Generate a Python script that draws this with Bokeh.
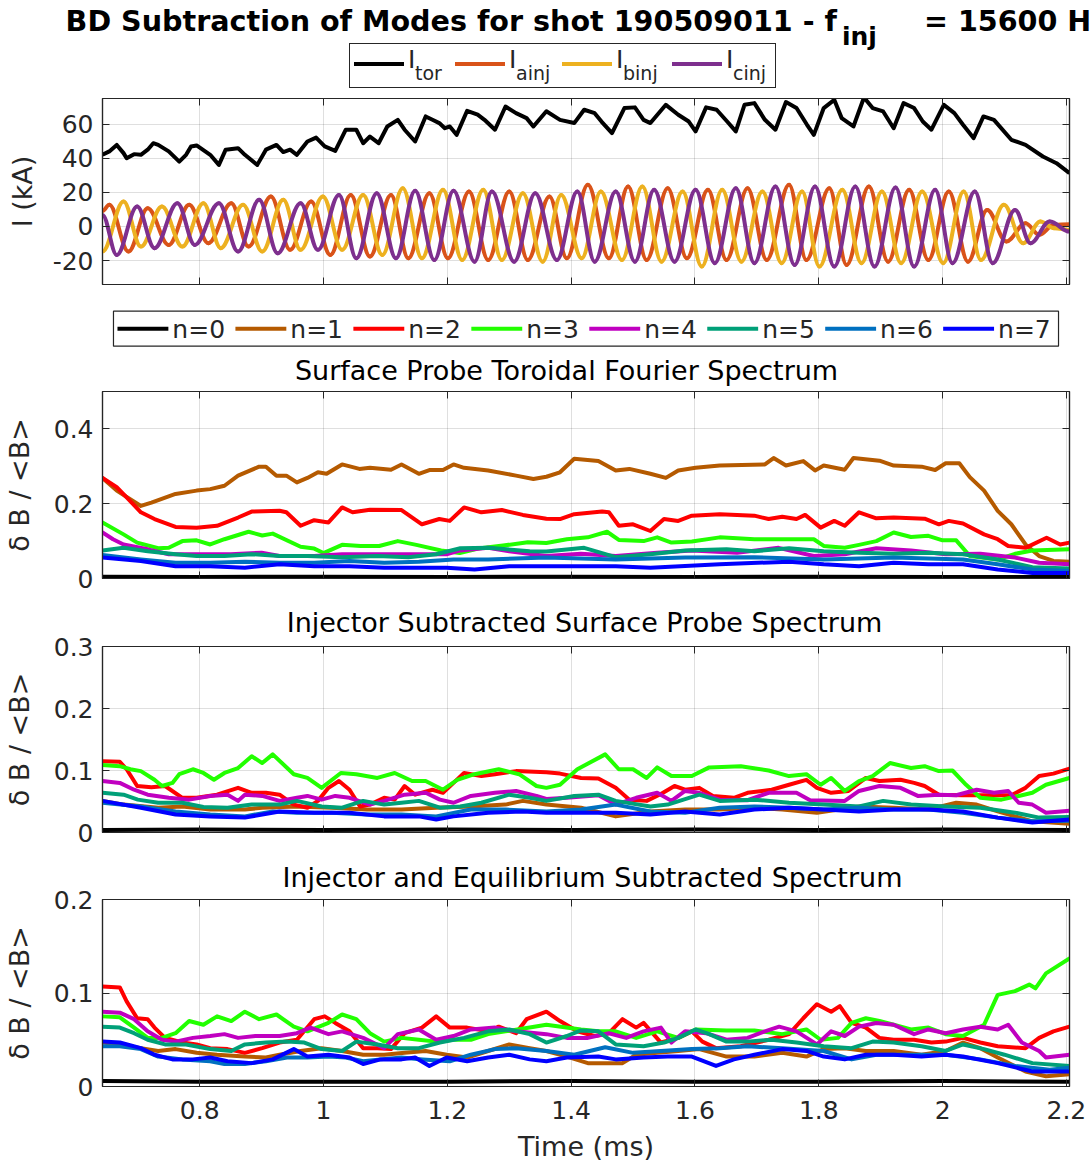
from bokeh.plotting import figure
from bokeh.layouts import column
from bokeh.models import Range1d, LinearAxis, FixedTicker, NumeralTickFormatter, ColumnDataSource, Div
from bokeh.embed import file_html
from bokeh.resources import INLINE
from bokeh.core.properties import value

# ---------------------------------------------------------------- data
X_TICKS = [0.8, 1.0, 1.2, 1.4, 1.6, 1.8, 2.0, 2.2]

# Panel 1: currents (kA)
ITOR_T = [0.643, 0.654, 0.666, 0.677, 0.682, 0.694, 0.705, 0.716, 0.725, 0.733, 0.750, 0.767, 0.778, 0.786, 0.795,
          0.817, 0.831, 0.842, 0.862, 0.873, 0.893, 0.907, 0.924, 0.935, 0.946, 0.957, 0.974, 0.988, 1.002, 1.019,
          1.036, 1.053, 1.064, 1.075, 1.089, 1.103, 1.120, 1.131, 1.148, 1.165, 1.176, 1.187, 1.196, 1.204, 1.215,
          1.232, 1.249, 1.260, 1.277, 1.294, 1.311, 1.328, 1.339, 1.360, 1.382, 1.405, 1.421, 1.438, 1.449, 1.466,
          1.486, 1.503, 1.517, 1.528, 1.553, 1.573, 1.590, 1.601, 1.618, 1.635, 1.652, 1.666, 1.680, 1.696, 1.713,
          1.730, 1.747, 1.764, 1.781, 1.792, 1.808, 1.825, 1.837, 1.856, 1.873, 1.887, 1.904, 1.921, 1.937, 1.954,
          1.968, 1.982, 2.002, 2.019, 2.033, 2.050, 2.066, 2.083, 2.111, 2.134, 2.162, 2.184, 2.205]
ITOR_V = [42.0, 44.0, 47.8, 43.0, 40.0, 42.4, 42.0, 45.0, 48.8, 47.8, 44.0, 38.0, 42.0, 46.9, 47.5,
          42.0, 36.1, 45.0, 45.9, 42.0, 36.1, 45.0, 47.8, 43.6, 45.0, 42.0, 49.8, 52.1, 46.9, 44.3,
          56.7, 56.7, 48.8, 52.7, 48.8, 58.6, 62.5, 56.7, 49.8, 64.5, 62.5, 60.6, 57.6, 58.6, 53.7,
          67.8, 65.5, 62.5, 56.7, 70.3, 66.4, 63.5, 58.6, 67.5, 62.5, 60.6, 68.4, 66.4, 61.5, 54.7,
          69.4, 69.8, 62.5, 60.6, 71.3, 65.5, 61.5, 55.7, 69.8, 68.4, 61.5, 55.7, 71.3, 72.3, 62.5,
          56.7, 72.9, 69.4, 59.6, 53.7, 69.4, 74.2, 63.5, 58.6, 75.6, 69.4, 67.4, 57.6, 72.3, 69.4,
          61.5, 56.7, 71.3, 66.4, 59.6, 51.8, 64.5, 62.5, 50.8, 47.8, 41.0, 37.1, 31.2]

# injector currents: successive peaks and troughs (time, value)
IA_T = [0.643, 0.654, 0.685, 0.716, 0.750, 0.783, 0.814, 0.851, 0.879, 0.915, 0.946, 0.980, 1.011, 1.044, 1.075,
        1.109, 1.137, 1.171, 1.201, 1.235, 1.266, 1.300, 1.330, 1.365, 1.393, 1.427, 1.461, 1.492, 1.522, 1.556,
        1.587, 1.621, 1.651, 1.685, 1.716, 1.752, 1.780, 1.817, 1.845, 1.881, 1.912, 1.946, 1.977, 2.010, 2.041,
        2.072, 2.103, 2.134, 2.156, 2.180, 2.205]
IA_V = [9.0, 12.7, -14.7, 10.7, -10.8, 12.7, -9.8, 13.6, -11.8, 17.6, -13.7, 14.6, -16.7, 18.5, -17.6,
        18.5, -18.6, 19.5, -18.6, 20.5, -19.6, 20.5, -19.6, 17.6, -18.6, 24.4, -18.6, 23.4, -19.6, 22.4,
        -18.6, 21.5, -19.6, 22.4, -19.6, 24.4, -19.6, 22.4, -22.5, 23.4, -20.6, 21.5, -19.6, 20.5, -20.6,
        9.7, -8.8, 1.9, -4.9, 1.0, 1.3]
IB_T = [0.643, 0.677, 0.705, 0.739, 0.772, 0.806, 0.834, 0.870, 0.901, 0.935, 0.963, 0.999, 1.030, 1.064, 1.095,
        1.128, 1.159, 1.193, 1.224, 1.258, 1.288, 1.322, 1.354, 1.384, 1.417, 1.448, 1.482, 1.515, 1.546, 1.580,
        1.611, 1.644, 1.675, 1.709, 1.740, 1.773, 1.801, 1.838, 1.869, 1.902, 1.933, 1.967, 2.001, 2.034, 2.062,
        2.099, 2.130, 2.158, 2.180, 2.205]
IB_V = [-14.7, 14.6, -11.8, 11.7, -11.8, 13.6, -12.7, 12.7, -14.7, 15.6, -13.7, 17.6, -13.7, 18.5, -16.7,
        22.4, -18.6, 21.5, -19.6, 21.5, -19.6, 19.5, -20.6, 18.5, -18.6, 20.5, -19.6, 23.4, -20.6, 20.5,
        -23.5, 21.5, -20.6, 20.5, -21.5, 20.5, -23.5, 21.5, -21.5, 20.5, -21.5, 20.5, -21.5, 20.5, -19.6,
        12.7, -9.8, 2.9, -1.0, -2.0]
IC_T = [0.643, 0.666, 0.699, 0.727, 0.764, 0.792, 0.831, 0.862, 0.896, 0.926, 0.963, 0.991, 1.025, 1.053, 1.086,
        1.117, 1.148, 1.179, 1.210, 1.244, 1.272, 1.308, 1.342, 1.377, 1.410, 1.438, 1.472, 1.503, 1.534, 1.567,
        1.601, 1.632, 1.666, 1.696, 1.730, 1.761, 1.794, 1.825, 1.859, 1.890, 1.924, 1.954, 1.988, 2.016, 2.052,
        2.081, 2.117, 2.142, 2.173, 2.205]
IC_V = [6.8, -16.7, 11.7, -12.7, 13.6, -10.8, 13.6, -14.7, 15.6, -15.7, 13.6, -13.7, 18.5, -18.6, 19.5,
        -18.6, 20.9, -19.6, 20.9, -20.6, 20.5, -20.6, 19.5, -19.6, 20.5, -20.6, 20.5, -20.6, 21.5, -20.6,
        21.5, -21.5, 22.4, -21.5, 23.4, -22.5, 23.4, -23.5, 23.4, -23.5, 22.8, -23.5, 21.5, -21.5, 20.5,
        -21.5, 9.7, -9.8, 2.9, -3.0]

# Panel 2: Surface Probe Toroidal Fourier Spectrum
S_N0_T = [0.643, 0.80, 1.00, 1.20, 1.40, 1.60, 1.80, 2.00, 2.205]
S_N0_V = [0.005, 0.004, 0.005, 0.004, 0.005, 0.004, 0.005, 0.004, 0.004]
S_N1_T = [0.643, 0.666, 0.705, 0.722, 0.761, 0.795, 0.817, 0.840, 0.862, 0.896, 0.907, 0.924, 0.940, 0.957, 0.974,
          0.991, 1.005, 1.030, 1.058, 1.075, 1.109, 1.126, 1.154, 1.171, 1.193, 1.210, 1.227, 1.266, 1.311, 1.339,
          1.360, 1.382, 1.405, 1.444, 1.472, 1.494, 1.528, 1.553, 1.573, 1.601, 1.640, 1.713, 1.727, 1.747, 1.775,
          1.794, 1.808, 1.842, 1.856, 1.898, 1.921, 1.966, 1.988, 2.005, 2.027, 2.044, 2.067, 2.089, 2.111, 2.134,
          2.156, 2.179, 2.205]
S_N1_V = [0.269, 0.235, 0.194, 0.203, 0.226, 0.235, 0.239, 0.248, 0.275, 0.299, 0.299, 0.275, 0.275, 0.257, 0.269,
          0.284, 0.280, 0.305, 0.293, 0.296, 0.291, 0.305, 0.280, 0.290, 0.290, 0.305, 0.296, 0.289, 0.275, 0.266,
          0.272, 0.284, 0.320, 0.314, 0.289, 0.293, 0.280, 0.269, 0.289, 0.296, 0.302, 0.305, 0.322, 0.302, 0.314,
          0.289, 0.302, 0.291, 0.322, 0.315, 0.302, 0.299, 0.290, 0.308, 0.308, 0.271, 0.235, 0.181, 0.145, 0.091,
          0.060, 0.047, 0.045]
S_N2_T = [0.643, 0.666, 0.682, 0.705, 0.727, 0.761, 0.795, 0.828, 0.862, 0.884, 0.929, 0.940, 0.963, 0.985, 1.008,
          1.030, 1.047, 1.075, 1.126, 1.159, 1.187, 1.204, 1.227, 1.255, 1.288, 1.322, 1.360, 1.382, 1.405, 1.450,
          1.461, 1.477, 1.500, 1.528, 1.550, 1.573, 1.595, 1.640, 1.696, 1.719, 1.741, 1.764, 1.778, 1.803, 1.825,
          1.842, 1.865, 1.893, 1.921, 1.971, 1.994, 2.010, 2.033, 2.067, 2.089, 2.106, 2.134, 2.168, 2.190, 2.205]
S_N2_V = [0.269, 0.244, 0.217, 0.177, 0.159, 0.138, 0.136, 0.141, 0.163, 0.179, 0.181, 0.177, 0.141, 0.156, 0.150,
          0.190, 0.177, 0.184, 0.183, 0.145, 0.159, 0.154, 0.190, 0.177, 0.183, 0.170, 0.160, 0.159, 0.172, 0.179,
          0.177, 0.141, 0.145, 0.127, 0.159, 0.154, 0.168, 0.172, 0.168, 0.159, 0.165, 0.159, 0.170, 0.136, 0.154,
          0.141, 0.177, 0.161, 0.163, 0.160, 0.145, 0.154, 0.147, 0.118, 0.105, 0.087, 0.082, 0.109, 0.091, 0.096]
S_N3_T = [0.643, 0.677, 0.699, 0.733, 0.750, 0.772, 0.795, 0.817, 0.840, 0.879, 0.901, 0.918, 0.963, 0.985, 1.000,
          1.030, 1.060, 1.090, 1.120, 1.150, 1.190, 1.220, 1.250, 1.290, 1.330, 1.360, 1.393, 1.427, 1.458, 1.477,
          1.517, 1.539, 1.562, 1.595, 1.640, 1.696, 1.752, 1.792, 1.808, 1.842, 1.865, 1.893, 1.921, 1.949, 1.977,
          2.000, 2.022, 2.044, 2.089, 2.117, 2.145, 2.205]
S_N3_V = [0.150, 0.118, 0.096, 0.081, 0.082, 0.100, 0.102, 0.091, 0.105, 0.125, 0.115, 0.120, 0.085, 0.080, 0.068,
          0.090, 0.087, 0.087, 0.100, 0.090, 0.075, 0.068, 0.080, 0.088, 0.097, 0.095, 0.105, 0.110, 0.125, 0.103,
          0.100, 0.110, 0.096, 0.099, 0.110, 0.105, 0.105, 0.105, 0.087, 0.082, 0.090, 0.100, 0.123, 0.111, 0.114,
          0.102, 0.102, 0.060, 0.051, 0.066, 0.075, 0.078]
S_N4_T = [0.643, 0.660, 0.677, 0.716, 0.750, 0.850, 0.900, 0.929, 0.985, 1.030, 1.100, 1.200, 1.221, 1.266, 1.300,
          1.360, 1.416, 1.472, 1.539, 1.595, 1.668, 1.735, 1.792, 1.842, 1.893, 1.949, 2.005, 2.061, 2.117, 2.156,
          2.205]
S_N4_V = [0.123, 0.105, 0.091, 0.078, 0.065, 0.065, 0.069, 0.060, 0.060, 0.065, 0.065, 0.065, 0.075, 0.082, 0.073,
          0.060, 0.066, 0.060, 0.069, 0.075, 0.069, 0.082, 0.060, 0.065, 0.081, 0.075, 0.065, 0.066, 0.056, 0.042,
          0.038]
S_N5_T = [0.643, 0.677, 0.716, 0.761, 0.795, 0.840, 0.884, 0.929, 0.974, 1.030, 1.087, 1.137, 1.182, 1.221, 1.266,
          1.333, 1.360, 1.421, 1.472, 1.528, 1.584, 1.651, 1.696, 1.752, 1.808, 1.865, 1.921, 1.977, 2.033, 2.089,
          2.145, 2.205]
S_N5_V = [0.075, 0.082, 0.073, 0.065, 0.060, 0.060, 0.065, 0.060, 0.060, 0.057, 0.060, 0.057, 0.065, 0.081, 0.082,
          0.073, 0.072, 0.082, 0.057, 0.065, 0.075, 0.078, 0.073, 0.081, 0.073, 0.069, 0.066, 0.069, 0.065, 0.051,
          0.030, 0.027]
S_N6_T = [0.643, 0.705, 0.761, 0.817, 0.873, 0.929, 0.985, 1.042, 1.098, 1.154, 1.210, 1.266, 1.360, 1.472, 1.584,
          1.696, 1.808, 1.921, 2.033, 2.089, 2.145, 2.205]
S_N6_V = [0.063, 0.051, 0.042, 0.042, 0.045, 0.042, 0.042, 0.047, 0.042, 0.045, 0.051, 0.051, 0.056, 0.051, 0.056,
          0.057, 0.051, 0.056, 0.051, 0.038, 0.024, 0.020]
S_N7_T = [0.643, 0.705, 0.761, 0.817, 0.873, 0.929, 0.985, 1.042, 1.098, 1.154, 1.199, 1.244, 1.300, 1.360, 1.472,
          1.528, 1.640, 1.752, 1.808, 1.865, 1.921, 1.977, 2.033, 2.089, 2.145, 2.205]
S_N7_V = [0.056, 0.047, 0.033, 0.033, 0.029, 0.038, 0.033, 0.033, 0.029, 0.029, 0.029, 0.024, 0.033, 0.033, 0.033,
          0.029, 0.038, 0.045, 0.038, 0.033, 0.042, 0.038, 0.038, 0.024, 0.015, 0.015]

# Panel 3: Injector Subtracted Surface Probe Spectrum
I_N0_T = [0.643, 0.80, 1.00, 1.20, 1.40, 1.60, 1.80, 2.00, 2.205]
I_N0_V = [0.004, 0.005, 0.004, 0.005, 0.004, 0.005, 0.004, 0.005, 0.004]
I_N1_T = [0.643, 0.677, 0.733, 0.772, 0.817, 0.873, 0.901, 0.957, 1.013, 1.070, 1.126, 1.182, 1.238, 1.294, 1.322,
          1.360, 1.416, 1.472, 1.528, 1.584, 1.640, 1.696, 1.741, 1.797, 1.865, 1.921, 1.977, 2.022, 2.055, 2.089,
          2.145, 2.205]
I_N1_V = [0.051, 0.045, 0.040, 0.042, 0.037, 0.037, 0.040, 0.042, 0.040, 0.037, 0.037, 0.040, 0.042, 0.045, 0.051,
          0.045, 0.040, 0.026, 0.034, 0.037, 0.037, 0.040, 0.037, 0.032, 0.042, 0.040, 0.037, 0.048, 0.045, 0.034,
          0.018, 0.014]
I_N2_T = [0.643, 0.671, 0.682, 0.699, 0.722, 0.744, 0.772, 0.795, 0.828, 0.862, 0.884, 0.907, 0.929, 0.952, 0.974,
          0.991, 1.008, 1.025, 1.042, 1.059, 1.075, 1.098, 1.115, 1.131, 1.148, 1.176, 1.193, 1.210, 1.227, 1.255,
          1.277, 1.311, 1.360, 1.382, 1.416, 1.444, 1.472, 1.494, 1.522, 1.545, 1.567, 1.584, 1.607, 1.629, 1.663,
          1.685, 1.724, 1.752, 1.780, 1.797, 1.820, 1.848, 1.876, 1.898, 1.932, 1.954, 1.971, 1.994, 2.033, 2.067,
          2.111, 2.134, 2.156, 2.179, 2.205]
I_N2_V = [0.115, 0.114, 0.102, 0.075, 0.073, 0.075, 0.056, 0.056, 0.061, 0.072, 0.064, 0.064, 0.061, 0.045, 0.040,
          0.051, 0.072, 0.083, 0.069, 0.042, 0.045, 0.056, 0.053, 0.075, 0.061, 0.069, 0.064, 0.080, 0.096, 0.091,
          0.094, 0.099, 0.097, 0.095, 0.088, 0.087, 0.072, 0.053, 0.051, 0.062, 0.075, 0.069, 0.072, 0.059, 0.056,
          0.064, 0.069, 0.077, 0.085, 0.072, 0.064, 0.067, 0.088, 0.083, 0.085, 0.080, 0.075, 0.061, 0.060, 0.060,
          0.060, 0.072, 0.091, 0.095, 0.103]
I_N3_T = [0.643, 0.671, 0.688, 0.705, 0.727, 0.739, 0.756, 0.767, 0.789, 0.806, 0.823, 0.840, 0.862, 0.884, 0.901,
          0.918, 0.952, 0.974, 0.997, 1.028, 1.053, 1.087, 1.115, 1.143, 1.165, 1.193, 1.216, 1.244, 1.283, 1.316,
          1.344, 1.360, 1.382, 1.410, 1.455, 1.477, 1.500, 1.522, 1.539, 1.562, 1.595, 1.623, 1.674, 1.719, 1.752,
          1.780, 1.803, 1.820, 1.842, 1.865, 1.887, 1.915, 1.949, 1.971, 1.994, 2.016, 2.038, 2.061, 2.095, 2.123,
          2.145, 2.167, 2.205]
I_N3_V = [0.109, 0.107, 0.102, 0.099, 0.085, 0.075, 0.080, 0.094, 0.102, 0.096, 0.085, 0.096, 0.104, 0.123, 0.112,
          0.126, 0.094, 0.088, 0.072, 0.096, 0.094, 0.088, 0.096, 0.083, 0.083, 0.069, 0.085, 0.094, 0.102, 0.094,
          0.075, 0.072, 0.077, 0.102, 0.126, 0.102, 0.102, 0.088, 0.105, 0.091, 0.091, 0.105, 0.107, 0.100, 0.091,
          0.094, 0.077, 0.088, 0.067, 0.083, 0.091, 0.112, 0.104, 0.107, 0.099, 0.100, 0.077, 0.056, 0.053, 0.059,
          0.064, 0.077, 0.088]
I_N4_T = [0.643, 0.671, 0.694, 0.716, 0.750, 0.783, 0.817, 0.845, 0.862, 0.873, 0.901, 0.929, 0.957, 0.974, 0.997,
          1.019, 1.042, 1.075, 1.098, 1.131, 1.165, 1.188, 1.210, 1.238, 1.277, 1.311, 1.344, 1.360, 1.393, 1.444,
          1.472, 1.505, 1.539, 1.562, 1.584, 1.607, 1.640, 1.685, 1.719, 1.764, 1.786, 1.842, 1.865, 1.898, 1.932,
          1.960, 1.994, 2.022, 2.055, 2.083, 2.106, 2.123, 2.145, 2.167, 2.205]
I_N4_V = [0.083, 0.080, 0.069, 0.061, 0.056, 0.053, 0.059, 0.061, 0.051, 0.061, 0.059, 0.051, 0.056, 0.059, 0.053,
          0.059, 0.056, 0.045, 0.051, 0.061, 0.064, 0.053, 0.048, 0.059, 0.064, 0.067, 0.059, 0.054, 0.056, 0.060,
          0.045, 0.056, 0.064, 0.051, 0.067, 0.064, 0.053, 0.052, 0.064, 0.064, 0.052, 0.051, 0.067, 0.075, 0.072,
          0.059, 0.061, 0.060, 0.069, 0.064, 0.067, 0.048, 0.045, 0.032, 0.035]
I_N5_T = [0.643, 0.677, 0.700, 0.733, 0.772, 0.806, 0.845, 0.884, 0.929, 0.957, 0.997, 1.030, 1.064, 1.098, 1.126,
          1.154, 1.188, 1.221, 1.255, 1.300, 1.333, 1.360, 1.405, 1.444, 1.472, 1.528, 1.556, 1.607, 1.640, 1.696,
          1.752, 1.808, 1.865, 1.904, 1.949, 2.005, 2.061, 2.117, 2.156, 2.205]
I_N5_V = [0.064, 0.061, 0.053, 0.048, 0.048, 0.041, 0.040, 0.045, 0.045, 0.051, 0.042, 0.040, 0.051, 0.045, 0.048,
          0.051, 0.040, 0.042, 0.048, 0.061, 0.056, 0.051, 0.059, 0.061, 0.051, 0.042, 0.045, 0.061, 0.051, 0.053,
          0.048, 0.045, 0.042, 0.051, 0.045, 0.042, 0.040, 0.032, 0.024, 0.025]
I_N6_T = [0.643, 0.705, 0.761, 0.817, 0.873, 0.918, 0.957, 1.013, 1.070, 1.126, 1.182, 1.238, 1.294, 1.360, 1.416,
          1.472, 1.528, 1.584, 1.640, 1.696, 1.752, 1.808, 1.865, 1.921, 1.977, 2.033, 2.089, 2.145, 2.205]
I_N6_V = [0.048, 0.042, 0.034, 0.029, 0.026, 0.034, 0.032, 0.032, 0.029, 0.029, 0.026, 0.037, 0.037, 0.034, 0.037,
          0.045, 0.034, 0.032, 0.040, 0.042, 0.040, 0.037, 0.040, 0.037, 0.037, 0.032, 0.024, 0.018, 0.019]
I_N7_T = [0.643, 0.705, 0.761, 0.817, 0.873, 0.929, 0.985, 1.042, 1.098, 1.154, 1.182, 1.210, 1.266, 1.322, 1.360,
          1.416, 1.472, 1.528, 1.584, 1.640, 1.696, 1.752, 1.808, 1.865, 1.921, 1.977, 2.033, 2.089, 2.145, 2.205]
I_N7_V = [0.051, 0.040, 0.029, 0.026, 0.024, 0.034, 0.032, 0.032, 0.026, 0.026, 0.021, 0.026, 0.032, 0.034, 0.032,
          0.032, 0.032, 0.029, 0.034, 0.029, 0.037, 0.040, 0.037, 0.034, 0.037, 0.037, 0.034, 0.024, 0.016, 0.021]

# Panel 4: Injector and Equilibrium Subtracted Spectrum
E_N0_T = [0.643, 0.80, 1.00, 1.20, 1.40, 1.60, 1.80, 2.00, 2.205]
E_N0_V = [0.006, 0.005, 0.005, 0.005, 0.006, 0.005, 0.005, 0.006, 0.005]
E_N1_T = [0.643, 0.671, 0.705, 0.733, 0.761, 0.795, 0.828, 0.873, 0.907, 0.929, 0.963, 0.997, 1.030, 1.064, 1.098,
          1.131, 1.165, 1.199, 1.232, 1.266, 1.300, 1.333, 1.360, 1.393, 1.427, 1.461, 1.483, 1.505, 1.539, 1.573,
          1.607, 1.651, 1.696, 1.741, 1.780, 1.808, 1.842, 1.876, 1.921, 1.966, 2.005, 2.033, 2.061, 2.089, 2.134,
          2.167, 2.205]
E_N1_V = [0.047, 0.045, 0.041, 0.038, 0.040, 0.036, 0.034, 0.032, 0.031, 0.034, 0.038, 0.041, 0.038, 0.034, 0.034,
          0.036, 0.038, 0.034, 0.031, 0.038, 0.045, 0.041, 0.038, 0.032, 0.025, 0.025, 0.025, 0.034, 0.036, 0.038,
          0.040, 0.032, 0.032, 0.036, 0.032, 0.040, 0.041, 0.038, 0.038, 0.034, 0.038, 0.047, 0.041, 0.031, 0.016,
          0.011, 0.013]
E_N2_T = [0.643, 0.671, 0.682, 0.699, 0.716, 0.727, 0.744, 0.772, 0.795, 0.817, 0.845, 0.873, 0.901, 0.929, 0.957,
          0.985, 1.002, 1.019, 1.042, 1.064, 1.087, 1.109, 1.131, 1.159, 1.182, 1.204, 1.232, 1.266, 1.283, 1.311,
          1.328, 1.360, 1.382, 1.410, 1.438, 1.461, 1.483, 1.505, 1.517, 1.545, 1.573, 1.595, 1.612, 1.634, 1.674,
          1.719, 1.752, 1.775, 1.797, 1.820, 1.834, 1.853, 1.876, 1.898, 1.921, 1.954, 1.982, 2.005, 2.033, 2.061,
          2.089, 2.134, 2.156, 2.179, 2.205]
E_N2_V = [0.107, 0.106, 0.091, 0.073, 0.072, 0.063, 0.052, 0.047, 0.045, 0.041, 0.040, 0.036, 0.041, 0.047, 0.050,
          0.072, 0.075, 0.068, 0.059, 0.041, 0.041, 0.040, 0.057, 0.063, 0.075, 0.063, 0.063, 0.059, 0.064, 0.057,
          0.072, 0.080, 0.070, 0.059, 0.054, 0.057, 0.072, 0.063, 0.068, 0.047, 0.052, 0.059, 0.048, 0.041, 0.043,
          0.050, 0.056, 0.073, 0.088, 0.080, 0.086, 0.068, 0.063, 0.052, 0.050, 0.050, 0.047, 0.048, 0.052, 0.047,
          0.043, 0.041, 0.052, 0.059, 0.064]
E_N3_T = [0.643, 0.671, 0.694, 0.716, 0.739, 0.761, 0.783, 0.806, 0.828, 0.851, 0.873, 0.896, 0.924, 0.952, 0.974,
          1.008, 1.030, 1.053, 1.075, 1.098, 1.126, 1.154, 1.182, 1.210, 1.238, 1.266, 1.294, 1.333, 1.360, 1.416,
          1.444, 1.472, 1.505, 1.539, 1.573, 1.601, 1.651, 1.696, 1.741, 1.780, 1.803, 1.831, 1.853, 1.876, 1.898,
          1.921, 1.949, 1.977, 2.005, 2.033, 2.067, 2.089, 2.117, 2.140, 2.150, 2.167, 2.205]
E_N3_V = [0.075, 0.074, 0.063, 0.052, 0.052, 0.057, 0.070, 0.066, 0.075, 0.070, 0.080, 0.072, 0.077, 0.064, 0.059,
          0.068, 0.077, 0.072, 0.057, 0.048, 0.052, 0.050, 0.048, 0.050, 0.050, 0.056, 0.059, 0.063, 0.066, 0.061,
          0.059, 0.059, 0.052, 0.059, 0.052, 0.061, 0.060, 0.060, 0.056, 0.061, 0.050, 0.052, 0.068, 0.073, 0.070,
          0.066, 0.061, 0.063, 0.056, 0.054, 0.066, 0.098, 0.102, 0.109, 0.105, 0.121, 0.137]
E_N4_T = [0.643, 0.671, 0.694, 0.716, 0.739, 0.761, 0.789, 0.817, 0.840, 0.862, 0.890, 0.929, 0.957, 0.979, 1.008,
          1.030, 1.064, 1.098, 1.120, 1.154, 1.182, 1.210, 1.238, 1.277, 1.311, 1.360, 1.393, 1.427, 1.461, 1.489,
          1.517, 1.545, 1.562, 1.584, 1.618, 1.651, 1.685, 1.713, 1.736, 1.764, 1.797, 1.820, 1.842, 1.865, 1.893,
          1.921, 1.954, 1.977, 2.005, 2.033, 2.061, 2.089, 2.106, 2.128, 2.156, 2.167, 2.205]
E_N4_V = [0.080, 0.079, 0.072, 0.059, 0.050, 0.048, 0.052, 0.054, 0.056, 0.052, 0.054, 0.054, 0.057, 0.063, 0.056,
          0.059, 0.052, 0.041, 0.056, 0.061, 0.050, 0.054, 0.061, 0.063, 0.059, 0.056, 0.052, 0.052, 0.057, 0.052,
          0.059, 0.063, 0.047, 0.059, 0.057, 0.050, 0.052, 0.059, 0.064, 0.059, 0.045, 0.059, 0.054, 0.064, 0.068,
          0.066, 0.056, 0.061, 0.057, 0.061, 0.064, 0.061, 0.066, 0.047, 0.038, 0.031, 0.034]
E_N5_T = [0.643, 0.671, 0.694, 0.716, 0.744, 0.778, 0.817, 0.851, 0.873, 0.907, 0.941, 0.969, 0.997, 1.030, 1.053,
          1.087, 1.120, 1.154, 1.188, 1.227, 1.266, 1.300, 1.333, 1.360, 1.393, 1.416, 1.444, 1.472, 1.517, 1.550,
          1.573, 1.601, 1.623, 1.651, 1.685, 1.724, 1.764, 1.808, 1.853, 1.887, 1.921, 1.966, 2.005, 2.033, 2.067,
          2.100, 2.145, 2.205]
E_N5_V = [0.064, 0.063, 0.057, 0.050, 0.045, 0.045, 0.040, 0.038, 0.045, 0.047, 0.048, 0.047, 0.040, 0.038, 0.048,
          0.045, 0.041, 0.041, 0.047, 0.052, 0.059, 0.061, 0.056, 0.047, 0.054, 0.060, 0.059, 0.045, 0.043, 0.047,
          0.052, 0.061, 0.056, 0.048, 0.048, 0.050, 0.047, 0.043, 0.041, 0.048, 0.047, 0.043, 0.038, 0.045, 0.040,
          0.034, 0.025, 0.022]
E_N6_T = [0.643, 0.671, 0.705, 0.733, 0.772, 0.817, 0.840, 0.873, 0.907, 0.941, 0.974, 1.008, 1.036, 1.064, 1.092,
          1.126, 1.160, 1.204, 1.238, 1.277, 1.311, 1.360, 1.405, 1.455, 1.500, 1.545, 1.595, 1.640, 1.685, 1.741,
          1.808, 1.853, 1.893, 1.949, 2.005, 2.061, 2.117, 2.173, 2.205]
E_N6_V = [0.043, 0.043, 0.040, 0.032, 0.029, 0.027, 0.024, 0.024, 0.027, 0.031, 0.031, 0.032, 0.031, 0.027, 0.029,
          0.031, 0.029, 0.027, 0.034, 0.040, 0.041, 0.038, 0.034, 0.042, 0.036, 0.038, 0.040, 0.041, 0.043, 0.041,
          0.038, 0.029, 0.034, 0.034, 0.034, 0.029, 0.022, 0.018, 0.020]
E_N7_T = [0.643, 0.671, 0.705, 0.727, 0.756, 0.789, 0.817, 0.845, 0.884, 0.918, 0.952, 0.974, 1.008, 1.042, 1.064,
          1.092, 1.126, 1.148, 1.171, 1.199, 1.232, 1.266, 1.300, 1.333, 1.360, 1.393, 1.444, 1.472, 1.517, 1.556,
          1.595, 1.634, 1.663, 1.696, 1.741, 1.780, 1.808, 1.842, 1.876, 1.921, 1.966, 2.005, 2.033, 2.089, 2.145,
          2.205]
E_N7_V = [0.048, 0.047, 0.041, 0.034, 0.029, 0.029, 0.031, 0.027, 0.025, 0.029, 0.040, 0.032, 0.034, 0.031, 0.024,
          0.029, 0.029, 0.031, 0.022, 0.031, 0.027, 0.031, 0.034, 0.029, 0.027, 0.031, 0.032, 0.029, 0.031, 0.032,
          0.032, 0.022, 0.029, 0.034, 0.040, 0.038, 0.032, 0.029, 0.034, 0.034, 0.032, 0.034, 0.032, 0.025, 0.016,
          0.016]

MODE_LABELS = ["n=0", "n=1", "n=2", "n=3", "n=4", "n=5", "n=6", "n=7"]
CURRENT_LABELS = [("I", "tor"), ("I", "ainj"), ("I", "binj"), ("I", "cinj")]

# ---------------------------------------------------------------- style
MODE_COLORS = ["#000000", "#B55A00", "#FF0000", "#22FF00", "#C000C0", "#00A078", "#0070C0", "#0000FF"]
CUR_COLORS = ["#000000", "#D95319", "#EDB120", "#7E2F8E"]
AX = "#262626"
FONT = "DejaVu Sans"
W = 1090
FL, FR = 100, 1069
X0, X1 = 0.643, 2.205
LW = 4
ASC = 0.846   # baseline offset of DejaVu Sans inside a line-height:1 box


def span(x, base, s, size, bold=False, right=False, color="#000"):
    pos = f"right:{W - x}px;" if right else f"left:{x}px;"
    return (f'<span style="position:absolute;{pos}top:{base - ASC * size:.1f}px;font-size:{size}px;'
            f'line-height:1;white-space:nowrap;font-weight:{"bold" if bold else "normal"};color:{color};">{s}</span>')


# ---------------------------------------------------------------- header 0 (html): title + current legend
parts = [span(837, 31.5, "BD Subtraction of Modes for shot 190509011 - f", 28.6, bold=True, right=True),
         span(842, 45.5, "inj", 25, bold=True),
         span(924, 31.5, "= 15600 Hz", 28.6, bold=True),
         f'<div style="position:absolute;left:349px;top:43px;width:427px;height:45px;'
         f'border:1px solid {AX};box-sizing:border-box;background:white;"></div>']
LEG1_X = [354, 455, 562, 672]
for xs, (main, sub), c in zip(LEG1_X, CURRENT_LABELS, CUR_COLORS):
    parts.append(f'<div style="position:absolute;left:{xs}px;top:61.5px;width:50px;height:4px;background:{c};"></div>')
    parts.append(span(xs + 54, 68.5, main, 25, color=AX))
    parts.append(span(xs + 61, 80, sub, 19, color=AX))
html0 = (f'<div style="position:relative;width:{W}px;height:92px;overflow:hidden;'
         f'font-family:\'{FONT}\';background:white;">' + "".join(parts) + "</div>")
h0 = Div(text=html0, width=W, height=92, margin=0)


def header(h):
    p = figure(width=W, height=h, x_range=Range1d(FL, FR), y_range=Range1d(h, 0), title=None,
               x_axis_type=None, y_axis_type=None, output_backend="svg", toolbar_location=None,
               min_border_left=FL, min_border_right=W - FR, min_border_top=0, min_border_bottom=0)
    p.outline_line_color = None
    p.grid.visible = False
    return p


def style_axis(ax):
    ax.axis_line_color = AX
    ax.axis_line_width = 1.2
    ax.major_tick_line_color = AX
    ax.major_tick_in = 7
    ax.major_tick_out = 0
    ax.minor_tick_line_color = AX
    ax.minor_tick_in = 7
    ax.minor_tick_out = 0
    ax.major_label_text_font = FONT
    ax.major_label_text_color = AX
    ax.major_label_text_font_size = "25px"


def panel(h, top, bottom, yr, yticks, ylabel, label_standoff, xlabels, overlap=0):
    p = figure(width=W, height=h, x_range=Range1d(X0, X1), y_range=Range1d(*yr), title=None,
               output_backend="svg", toolbar_location=None, margin=(-overlap, 0, 0, 0),
               min_border_left=FL, min_border_right=W - FR, min_border_top=top, min_border_bottom=bottom)
    if overlap:
        # transparent border so that the header above, which it overlaps slightly, stays visible
        p.border_fill_color = None
    p.outline_line_color = AX
    p.outline_line_width = 1.2
    # tick marks only (drawn as minor ticks) where the reference shows no labels
    p.xaxis.ticker = FixedTicker(ticks=X_TICKS) if xlabels else FixedTicker(ticks=[], minor_ticks=X_TICKS)
    p.yaxis.ticker = FixedTicker(ticks=yticks)
    p.xgrid.ticker = FixedTicker(ticks=X_TICKS)
    p.ygrid.ticker = FixedTicker(ticks=yticks)
    for g in (p.xgrid, p.ygrid):
        g.grid_line_color = AX
        g.grid_line_alpha = 0.15
        g.grid_line_width = 1
    fmt = NumeralTickFormatter(format="0.[0]")
    p.xaxis.formatter = fmt
    p.yaxis.formatter = fmt
    style_axis(p.xaxis[0])
    style_axis(p.yaxis[0])
    if xlabels:
        p.xaxis.major_label_standoff = 14
        p.xaxis.axis_label = "Time (ms)"
        p.xaxis.axis_label_text_font = FONT
        p.xaxis.axis_label_text_font_size = "27px"
        p.xaxis.axis_label_text_font_style = "normal"
        p.xaxis.axis_label_text_color = AX
        p.xaxis.axis_label_standoff = 9
    else:
        p.xaxis.major_label_standoff = 0
    p.yaxis.major_label_standoff = 9
    p.yaxis.axis_label = ylabel
    p.yaxis.axis_label_text_font = FONT
    p.yaxis.axis_label_text_font_size = "27px"
    p.yaxis.axis_label_text_font_style = "normal"
    p.yaxis.axis_label_text_color = AX
    p.yaxis.axis_label_standoff = label_standoff
    top_ax = LinearAxis(ticker=FixedTicker(ticks=[], minor_ticks=X_TICKS), major_label_standoff=0)
    style_axis(top_ax)
    right_ax = LinearAxis(ticker=FixedTicker(ticks=[], minor_ticks=yticks), major_label_standoff=0)
    style_axis(right_ax)
    p.add_layout(top_ax, "above")
    p.add_layout(right_ax, "right")
    return p


def mode_lines(p, series):
    for (t, v), c in zip(series, MODE_COLORS):
        p.line(t, v, line_color=c, line_width=LW, line_join="round", line_cap="round")


def smooth_wave(p, t, v, color):
    k = 0.364
    x0, x1, y0, y1 = t[:-1], t[1:], v[:-1], v[1:]
    cx0 = [a + k * (b - a) for a, b in zip(x0, x1)]
    cx1 = [b - k * (b - a) for a, b in zip(x0, x1)]
    src = ColumnDataSource(dict(x0=x0, y0=y0, x1=x1, y1=y1, cx0=cx0, cy0=y0, cx1=cx1, cy1=y1))
    p.bezier(x0="x0", y0="y0", x1="x1", y1="y1", cx0="cx0", cy0="cy0", cx1="cx1", cy1="cy1",
             source=src, line_color=color, line_width=LW, line_cap="round")


def txt(p, x, y, s, size, align="left", baseline="middle", color="black"):
    p.text(x=[x], y=[y], text=[s], text_font=value(FONT), text_font_size=value(size),
           text_align=align, text_baseline=baseline, text_color=color)


# ---------------------------------------------------------------- panel 1   (page y 92-300)
p1 = panel(208, 6, 16, (-34, 75), [-20, 0, 20, 40, 60], "I (kA)", 12, False)
p1.line(ITOR_T, ITOR_V, line_color=CUR_COLORS[0], line_width=LW, line_join="round")
smooth_wave(p1, IA_T, IA_V, CUR_COLORS[1])
smooth_wave(p1, IB_T, IB_V, CUR_COLORS[2])
smooth_wave(p1, IC_T, IC_V, CUR_COLORS[3])

# ---------------------------------------------------------------- header 1: mode legend + title   (300-386)
h1 = header(86)
h1.quad(left=[111], right=[1058], top=[10.7], bottom=[45.7], fill_color="white", line_color=AX, line_width=1.2)
for i, (lab, c) in enumerate(zip(MODE_LABELS, MODE_COLORS)):
    xs = 115 + i * 118.2
    h1.segment(x0=[xs], y0=[28.3], x1=[xs + 51], y1=[28.3], line_color=c, line_width=LW)
    txt(h1, xs + 55, 28.5, lab, "25px", color=AX)
txt(h1, 565, 70.3, "Surface Probe Toroidal Fourier Spectrum", "27px", align="center")

# ---------------------------------------------------------------- panel 2   (386-592)
p2 = panel(206, 5, 14, (0, 0.5), [0, 0.2, 0.4], "δ B / <B>", 16, False)
mode_lines(p2, [(S_N0_T, S_N0_V), (S_N1_T, S_N1_V), (S_N2_T, S_N2_V), (S_N3_T, S_N3_V),
                (S_N4_T, S_N4_V), (S_N5_T, S_N5_V), (S_N6_T, S_N6_V), (S_N7_T, S_N7_V)])

# ---------------------------------------------------------------- header 2   (592-640)
h2 = header(48)
txt(h2, 583, 30.2, "Injector Subtracted Surface Probe Spectrum", "27px", align="center")

# ---------------------------------------------------------------- panel 3   (630-846, overlapping header 2 by 10)
p3 = panel(216, 16, 14, (0, 0.3), [0, 0.1, 0.2, 0.3], "δ B / <B>", 16, False, overlap=10)
mode_lines(p3, [(I_N0_T, I_N0_V), (I_N1_T, I_N1_V), (I_N2_T, I_N2_V), (I_N3_T, I_N3_V),
                (I_N4_T, I_N4_V), (I_N5_T, I_N5_V), (I_N6_T, I_N6_V), (I_N7_T, I_N7_V)])

# ---------------------------------------------------------------- header 3   (846-893)
h3 = header(47)
txt(h3, 591, 31.2, "Injector and Equilibrium Subtracted Spectrum", "27px", align="center")

# ---------------------------------------------------------------- panel 4   (884-1165, overlapping header 3 by 9)
p4 = panel(281, 15, 79, (0, 0.2), [0, 0.1, 0.2], "δ B / <B>", 16, True, overlap=9)
mode_lines(p4, [(E_N0_T, E_N0_V), (E_N1_T, E_N1_V), (E_N2_T, E_N2_V), (E_N3_T, E_N3_V),
                (E_N4_T, E_N4_V), (E_N5_T, E_N5_V), (E_N6_T, E_N6_V), (E_N7_T, E_N7_V)])

layout = column(h0, p1, h1, p2, h2, p3, h3, p4, spacing=0)
open("out.html", "w").write(file_html(layout, INLINE))
